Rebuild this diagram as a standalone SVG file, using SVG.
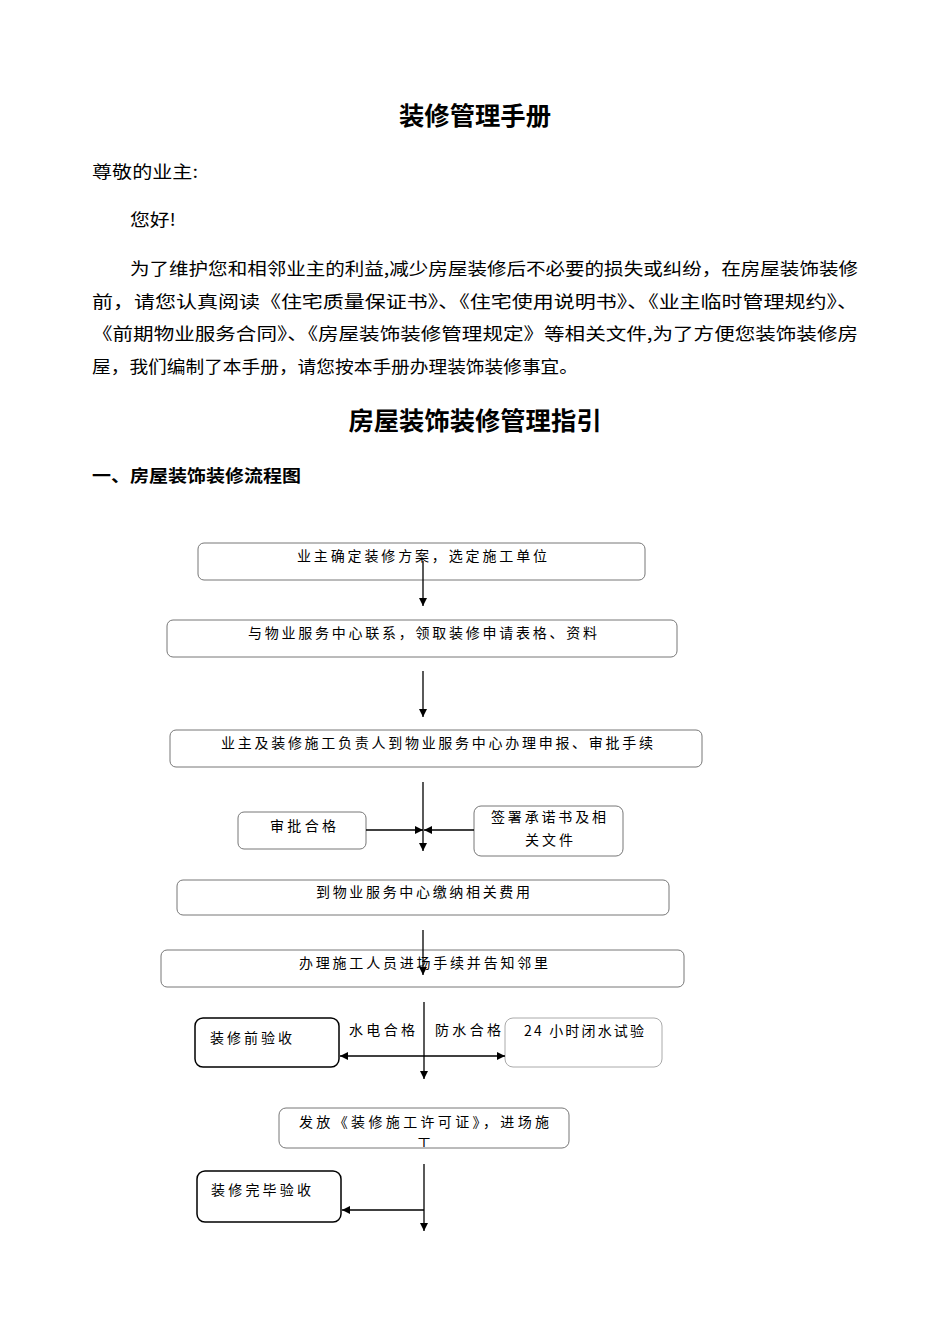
<svg xmlns="http://www.w3.org/2000/svg" width="950" height="1344" viewBox="0 0 950 1344">
<style>
.t{font-family:"Noto Sans CJK SC","Noto Sans",sans-serif;fill:#000}
.h{font-size:25px;font-weight:bold}
.b{font-size:17px}
.s{font-size:14px}
.box{fill:#fff;stroke:#777;stroke-width:1}
.dark{fill:#fff;stroke:#000;stroke-width:1.5}
.light{fill:#fff;stroke:#aaa;stroke-width:1}
.ln{stroke:#000;stroke-width:1.3;fill:none}
</style>
<defs>
<marker id="ah" viewBox="0 0 10 10" refX="10" refY="5" markerWidth="8" markerHeight="8" markerUnits="userSpaceOnUse" orient="auto"><path d="M0,0 L10,5 L0,10 Z" fill="#000"/></marker>
<clipPath id="clipGong"><rect x="279" y="1108" width="290" height="39"/></clipPath>
</defs>
<rect width="950" height="1344" fill="#fff"/>

<g id="header">
<text class="t h" x="475" y="125" text-anchor="middle" textLength="152" lengthAdjust="spacingAndGlyphs">装修管理手册</text>
<text class="t b" x="92" y="178" textLength="106" lengthAdjust="spacingAndGlyphs">尊敬的业主:</text>
<text class="t b" x="130" y="226" textLength="46" lengthAdjust="spacingAndGlyphs">您好!</text>
<text class="t b" x="130" y="275" textLength="728" lengthAdjust="spacingAndGlyphs">为了维护您和相邻业主的利益,减少房屋装修后不必要的损失或纠纷，在房屋装饰装修</text>
<text class="t b" x="92" y="308" textLength="766" lengthAdjust="spacingAndGlyphs">前，请您认真阅读《住宅质量保证书》、《住宅使用说明书》、《业主临时管理规约》、</text>
<text class="t b" x="92" y="340" textLength="766" lengthAdjust="spacingAndGlyphs">《前期物业服务合同》、《房屋装饰装修管理规定》等相关文件,为了方便您装饰装修房</text>
<text class="t b" x="92" y="373" textLength="486" lengthAdjust="spacingAndGlyphs">屋，我们编制了本手册，请您按本手册办理装饰装修事宜。</text>
<text class="t h" x="475" y="430" text-anchor="middle" textLength="253" lengthAdjust="spacingAndGlyphs">房屋装饰装修管理指引</text>
<text class="t b" x="92" y="482" font-weight="bold" textLength="209" lengthAdjust="spacingAndGlyphs">一、房屋装饰装修流程图</text>
</g>

<g id="n1"><rect class="box" x="198" y="543" width="447" height="37" rx="6"/>
<text class="t s" x="297" y="561" textLength="250" lengthAdjust="spacing">业主确定装修方案，选定施工单位</text></g>

<g id="n2"><rect class="box" x="167" y="620" width="510" height="37" rx="6"/>
<text class="t s" x="248" y="638" textLength="349" lengthAdjust="spacing">与物业服务中心联系，领取装修申请表格、资料</text></g>

<g id="n3"><rect class="box" x="170" y="730" width="532" height="37" rx="6"/>
<text class="t s" x="221" y="748" textLength="432" lengthAdjust="spacing">业主及装修施工负责人到物业服务中心办理申报、审批手续</text></g>

<g id="n4"><rect class="box" x="238" y="812" width="128" height="37" rx="6"/>
<text class="t s" x="270" y="831" textLength="66" lengthAdjust="spacing">审批合格</text></g>

<g id="n5"><rect class="box" x="474" y="806" width="149" height="50" rx="7"/>
<text class="t s" x="491" y="822" textLength="115" lengthAdjust="spacing">签署承诺书及相</text>
<text class="t s" x="525" y="845" textLength="48" lengthAdjust="spacing">关文件</text></g>

<g id="n6"><rect class="box" x="177" y="880" width="492" height="35" rx="6"/>
<text class="t s" x="316" y="897" textLength="214" lengthAdjust="spacing">到物业服务中心缴纳相关费用</text></g>

<g id="n7"><rect class="box" x="161" y="950" width="523" height="37" rx="6"/>
<text class="t s" x="299" y="968" textLength="249" lengthAdjust="spacing">办理施工人员进场手续并告知邻里</text></g>

<g id="n8"><rect class="dark" x="195" y="1018" width="144" height="49" rx="8"/>
<text class="t s" x="210" y="1043" textLength="82" lengthAdjust="spacing">装修前验收</text></g>

<g id="n9"><rect class="light" x="505" y="1018" width="157" height="49" rx="8"/>
<text class="t s" x="524" y="1036" textLength="120" lengthAdjust="spacing">24 小时闭水试验</text></g>

<g id="n10"><rect class="box" x="279" y="1108" width="290" height="40" rx="7"/>
<text class="t s" x="299" y="1127" textLength="250" lengthAdjust="spacing">发放《装修施工许可证》，进场施</text>
<text class="t s" x="424" y="1148" text-anchor="middle" clip-path="url(#clipGong)">工</text></g>

<g id="n11"><rect class="dark" x="197" y="1171" width="144" height="51" rx="8"/>
<text class="t s" x="211" y="1195" textLength="100" lengthAdjust="spacing">装修完毕验收</text></g>

<g id="labels">
<text class="t s" x="349" y="1035" textLength="66" lengthAdjust="spacing">水电合格</text>
<text class="t s" x="435" y="1035" textLength="66" lengthAdjust="spacing">防水合格</text>
</g>

<g id="connectors">
<line class="ln" x1="423" y1="561" x2="423" y2="606" marker-end="url(#ah)"/>
<line class="ln" x1="423" y1="671" x2="423" y2="717" marker-end="url(#ah)"/>
<line class="ln" x1="423" y1="782" x2="423" y2="851" marker-end="url(#ah)"/>
<line class="ln" x1="366" y1="830" x2="423" y2="830" marker-end="url(#ah)"/>
<line class="ln" x1="474" y1="830" x2="424" y2="830" marker-end="url(#ah)"/>
<line class="ln" x1="423" y1="930" x2="423" y2="975" marker-end="url(#ah)"/>
<line class="ln" x1="424" y1="1002" x2="424" y2="1079" marker-end="url(#ah)"/>
<line class="ln" x1="424" y1="1056" x2="340" y2="1056" marker-end="url(#ah)"/>
<line class="ln" x1="424" y1="1056" x2="505" y2="1056" marker-end="url(#ah)"/>
<line class="ln" x1="424" y1="1164" x2="424" y2="1231" marker-end="url(#ah)"/>
<line class="ln" x1="424" y1="1210" x2="342" y2="1210" marker-end="url(#ah)"/>
</g>
</svg>
